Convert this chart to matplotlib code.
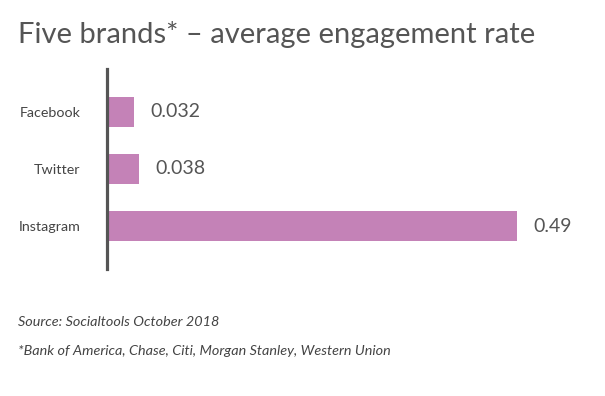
import matplotlib
matplotlib.use("Agg")
import matplotlib.pyplot as plt

categories = ["Facebook", "Twitter", "Instagram"]
values = [0.032, 0.038, 0.49]
value_labels = ["0.032", "0.038", "0.49"]

plt.rcParams['font.family'] = ['Lato', 'DejaVu Sans']

W, H = 605, 396
fig = plt.figure(figsize=(W/100, H/100), dpi=100)
ax = fig.add_axes([107/W, 1 - 269/H, (590-107)/W, 200/H])

bar_color = "#C482B7"
text_color = "#555555"

ypos = list(range(len(categories)))
ax.barh(ypos, values, height=0.526, color=bar_color, left=0)
ax.set_xlim(0, 483/836.7)
ax.set_ylim(2.754, -0.754)

for y, v, lab in zip(ypos, values, value_labels):
    ax.annotate(lab, xy=(v, y), xytext=(12, 0), textcoords="offset points",
                va="center", ha="left", fontsize=14, color=text_color)

ax.set_yticks(ypos)
ax.set_yticklabels(categories, fontsize=10.3, color="#444444")
ax.tick_params(axis="y", length=0, pad=19)
ax.set_xticks([])
for s in ["top", "right", "bottom"]:
    ax.spines[s].set_visible(False)
ax.spines["left"].set_color(text_color)
ax.spines["left"].set_linewidth(2.3)

fig.text(18/W, 1 - 43/H, "Five brands* \u2013 average engagement rate", fontsize=21,
         color=text_color, ha="left", va="baseline")
fig.text(18/W, 1 - 326/H, "Source: Socialtools October 2018", fontsize=10.4,
         style="italic", color="#444444", ha="left", va="baseline")
fig.text(18/W, 1 - 355/H, "*Bank of America, Chase, Citi, Morgan Stanley, Western Union",
         fontsize=10.4, style="italic", color="#444444", ha="left", va="baseline")

fig.savefig("out.png", dpi=100)
